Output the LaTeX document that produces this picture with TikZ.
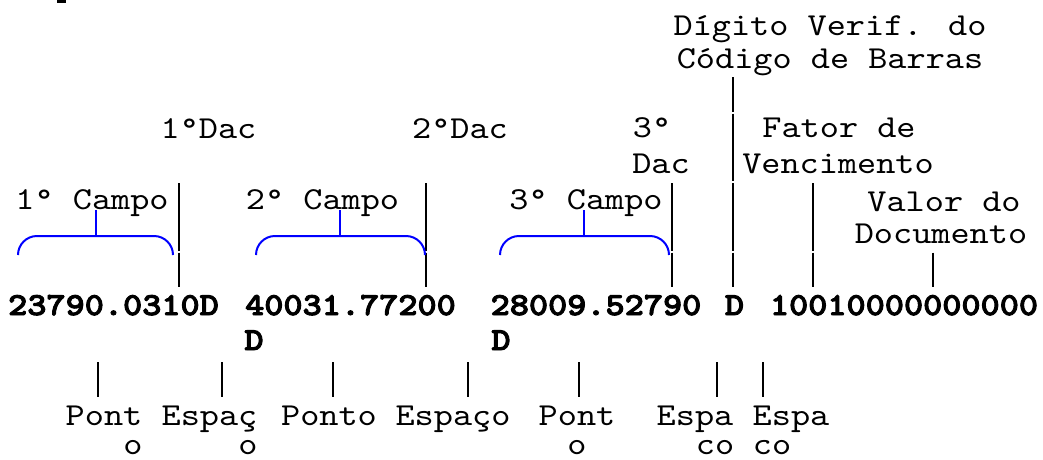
\documentclass[tikz,border=0pt]{standalone}
\usepackage{fontspec}
\newfontfamily\courfont[FakeStretch=1.14]{lmmono10-regular.otf}
\newfontfamily\courbold[FakeStretch=1.14,FakeBold=3]{lmmonolt10-bold.otf}
\begin{document}
\begin{tikzpicture}[x=1pt,y=-1pt,
  lbl/.style={inner sep=0pt, anchor=base, font=\courfont\fontsize{32}{36}\selectfont},
  num/.style={inner sep=0pt, anchor=base, font=\courbold\fontsize{32}{36}\selectfont},
  lead/.style={line width=2pt, black},
  brace/.style={line width=2pt, blue, rounded corners=19pt}]
\useasboundingbox (0,0) rectangle (1043,459);
\fill (57,0) rectangle (66,3);

% upper labels
\node[lbl] (dv1) at (830,35) {Dígito Verif. do};
\node[lbl] (dv2) at (830,68) {Código de Barras};
\node[lbl] (dac1) at (208.5,138) {1°Dac};
\node[lbl] (dac2) at (460,138) {2°Dac};
\node[lbl] (dac3a) at (652,137) {3°};
\node[lbl] (dac3b) at (661,173) {Dac};
\node[lbl] (fv1) at (839,137) {Fator de};
\node[lbl] (fv2) at (838,173) {Vencimento};
\node[lbl] (c1) at (92,209) {1° Campo};
\node[lbl] (c2) at (322.5,209) {2° Campo};
\node[lbl] (c3) at (586,209) {3° Campo};
\node[lbl] (vd1) at (944,211) {Valor do};
\node[lbl] (vd2) at (941,243) {Documento};

% numbers
\node[num] (n1) at (113.5,315) {23790.0310D};
\node[num] (n2) at (350.5,315) {40031.77200};
\node[num] (n2d) at (254,350) {D};
\node[num] (n3) at (596,315) {28009.52790};
\node[num] (n3d) at (501,350) {D};
\node[num] (n4) at (734.5,315) {D};
\node[num] (n5) at (904,315) {10010000000000};

% lower labels
\node[lbl] (p1) at (104,425) {Pont};
\node[lbl] (p1b) at (133,454) {o};
\node[lbl] (e1) at (209.5,425) {Espaç};
\node[lbl] (e1b) at (248,454) {o};
\node[lbl] (p2) at (329,425) {Ponto};
\node[lbl] (e2) at (453,425) {Espaço};
\node[lbl] (p3) at (577,425) {Pont};
\node[lbl] (p3b) at (577,454) {o};
\node[lbl] (e3) at (695,425) {Espa};
\node[lbl] (e3b) at (715,454) {co};
\node[lbl] (e4) at (791,425) {Espa};
\node[lbl] (e4b) at (772,454) {co};

% upper leader lines (stacked segments)
\foreach \x/\n in {179/a,426/b,672/c,733/d,813/e}{
  \coordinate (\n1) at (\x,183);
  \coordinate (\n2) at (\x,251);
  \coordinate (\n3) at (\x,252.5);
  \coordinate (\n4) at (\x,287);
  \draw[lead] (\n1) -- (\n2);
  \draw[lead] (\n3) -- (\n4);
}
\coordinate (d5) at (733,77);
\coordinate (d6) at (733,112);
\coordinate (d7) at (733,113.5);
\coordinate (d8) at (733,181);
\draw[lead] (d5) -- (d6);
\draw[lead] (d7) -- (d8);
\coordinate (f1) at (933,252.5);
\coordinate (f2) at (933,287);
\draw[lead] (f1) -- (f2);

% lower leader lines
\foreach \x/\n in {98/la,222/lb,333/lc,468/ld,579/le,717/lf,763/lg}{
  \coordinate (\n1) at (\x,362);
  \coordinate (\n2) at (\x,397);
  \draw[lead] (\n1) -- (\n2);
}

% braces
\foreach \l/\r/\m/\n in {18/173/96/ba,256/425/340/bb,500/669/584/bc}{
  \coordinate (\n1) at (\l,255);
  \coordinate (\n2) at (\r,255);
  \coordinate (\n3) at (\m,236);
  \coordinate (\n4) at (\m,210);
  \draw[brace] (\n1) -- (\l,236) -- (\r,236) -- (\n2);
  \draw[line width=2pt, blue] (\n3) -- (\n4);
}
\end{tikzpicture}
\end{document}
